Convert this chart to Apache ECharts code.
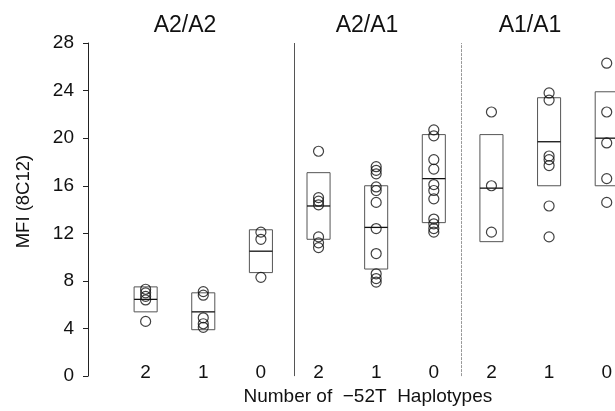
<!DOCTYPE html>
<html>
<head>
<meta charset="utf-8">
<script src="https://cdn.jsdelivr.net/npm/echarts@6/dist/echarts.min.js"></script>
<style>
  html, body { margin: 0; padding: 0; background: #fff; }
  #chart { width: 615px; height: 411px; }
</style>
</head>
<body>
<div id="chart"></div>
<script>
// genotype groups and haplotype counts (x categories)
const groups = ["A2/A2", "A2/A1", "A1/A1"];
const haplotypes = ["2", "1", "0"];

// boxes per category: lower edge, median, upper edge
const boxLow = [5.4, 3.9, 8.7, 11.5, 9.0, 12.9, 11.3, 16.0, 16.0];
const boxMedian = [6.45, 5.4, 10.5, 14.3, 12.5, 16.6, 15.8, 19.7, 20.0];
const boxHigh = [7.5, 7.0, 12.3, 17.1, 16.0, 20.3, 20.3, 23.4, 23.9];

// individual MFI values per category
const a2a2_2 = [7.3, 7.0, 6.7, 6.4, 4.6];
const a2a2_1 = [7.1, 6.8, 4.9, 4.4, 4.1];
const a2a2_0 = [12.1, 11.5, 8.3];
const a2a1_2 = [18.9, 15.0, 14.7, 14.4, 11.7, 11.2, 10.8];
const a2a1_1 = [17.6, 17.3, 17.0, 15.9, 15.6, 14.6, 12.4, 10.3, 8.6, 8.2, 7.9];
const a2a1_0 = [20.7, 20.2, 18.2, 17.4, 16.1, 15.6, 14.9, 13.2, 12.8, 12.4, 12.1];
const a1a1_2 = [22.2, 16.0, 12.1];
const a1a1_1 = [23.8, 23.2, 18.5, 18.2, 17.7, 14.3, 11.7];
const a1a1_0 = [26.3, 22.2, 19.6, 16.6, 14.6];
const points = [a2a2_2, a2a2_1, a2a2_0, a2a1_2, a2a1_1, a2a1_0, a1a1_2, a1a1_1, a1a1_0];

const yTicks = [0, 4, 8, 12, 16, 20, 24, 28];

const font = "Liberation Sans";

var myChart = echarts.init(document.getElementById("chart"));

// category i sits at x = i + 1
const scatterData = [];
points.forEach((vals, i) => vals.forEach(v => scatterData.push([i + 1, v])));
const boxData = boxLow.map((lo, i) => [i + 1, lo, boxMedian[i], boxHigh[i]]);

var option = {
	animation: false,
	textStyle: { fontFamily: font },
	grid: { left: 88, right: 0, top: 43, bottom: 33 },
	xAxis: {
		type: "value",
		min: 0,
		max: 527 / 58,
		interval: 1,
		axisLine: { show: false },
		axisTick: { show: false },
		splitLine: { show: false },
		axisLabel: {
			fontSize: 19,
			color: "#111",
			margin: -13,
			showMaxLabel: false,
			formatter: v => (Number.isInteger(v) && v >= 1 && v <= 9) ? haplotypes[(v - 1) % 3] : "",
		},
		name: "Number of  \u221252T  Haplotypes",
		nameLocation: "middle",
		nameGap: 9,
		nameTextStyle: { fontSize: 19, color: "#111", padding: [0, 0, 0, 36] },
	},
	yAxis: {
		type: "value",
		min: yTicks[0],
		max: yTicks[yTicks.length - 1],
		interval: 4,
		axisLine: { show: true, lineStyle: { color: "#222", width: 1 } },
		axisTick: { show: true, length: 5, lineStyle: { color: "#222" } },
		splitLine: { show: false },
		axisLabel: { fontSize: 19, color: "#111", margin: 14 },
		name: "MFI (8C12)",
		nameLocation: "middle",
		nameRotate: 90,
		nameGap: 55,
		nameTextStyle: { fontSize: 18.5, color: "#111", padding: [0, 0, 0, 16] },
	},
	graphic: groups.map((g, i) => ({
		type: "text",
		x: [185, 367, 530][i],
		y: 14,
		style: { text: g, fontSize: 23, fontFamily: font, fill: "#111", textAlign: "center" },
	})),
	series: [
		{
			type: "custom",
			data: boxData,
			renderItem: function (params, api) {
				const x = api.value(0);
				const tl = api.coord([x - 0.2, api.value(3)]);
				const br = api.coord([x + 0.2, api.value(1)]);
				const ml = api.coord([x - 0.2, api.value(2)]);
				const mr = api.coord([x + 0.2, api.value(2)]);
				return {
					type: "group",
					children: [
						{
							type: "rect",
							shape: { x: tl[0], y: tl[1], width: br[0] - tl[0], height: br[1] - tl[1] },
							style: { fill: "none", stroke: "#555", lineWidth: 1 },
						},
						{
							type: "line",
							shape: { x1: ml[0], y1: ml[1], x2: mr[0], y2: mr[1] },
							style: { stroke: "#111", lineWidth: 1.3 },
						},
					],
				};
			},
		},
		{
			type: "scatter",
			data: scatterData,
			symbol: "circle",
			symbolSize: 10,
			itemStyle: { color: "rgba(0,0,0,0)", borderColor: "#111", borderWidth: 1.2 },
			markLine: {
				silent: true,
				symbol: "none",
				label: { show: false },
				data: [
					{ xAxis: 3.57, lineStyle: { color: "#555", width: 1, type: "solid" } },
					{ xAxis: 6.48, lineStyle: { color: "#999", width: 1, type: [3, 1] } },
				],
			},
		},
	],
};
myChart.setOption(option);
</script>
</body>
</html>
